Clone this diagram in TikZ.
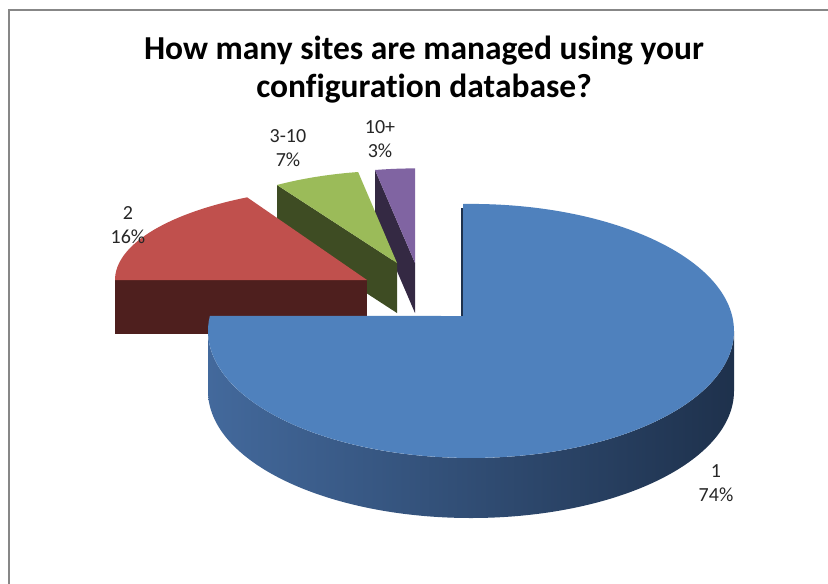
\documentclass[tikz,border=0pt]{standalone}
\usepackage{fontspec}
\setmainfont{Carlito}[Ligatures=NoCommon]
\definecolor{bluetop}{HTML}{4F81BD}
\definecolor{blueL}{HTML}{43699C}
\definecolor{blueM}{HTML}{2E4D72}
\definecolor{blueR}{HTML}{1E314C}
\definecolor{redtop}{HTML}{C0504D}
\definecolor{redface}{HTML}{4E1F1E}
\definecolor{greentop}{HTML}{9BBB59}
\definecolor{greenface}{HTML}{3E4C23}
\definecolor{purpletop}{HTML}{8064A2}
\definecolor{purpleface}{HTML}{342943}
\definecolor{framegray}{HTML}{878787}
\begin{document}
\begin{tikzpicture}[x=1pt,y=-1pt,
  lbl/.style={font=\fontsize{20}{24}\selectfont, text=black!85, align=center, inner sep=0pt},
  ttl/.style={font=\fontsize{33.5}{38}\selectfont\bfseries, text=black, align=center, inner sep=0pt}]
\useasboundingbox (0,0) rectangle (828,584);
\fill[white] (0,0) rectangle (828,584);
% frame
\draw[framegray, line width=2pt] (828,9.5) -- (8.5,9.5) -- (8.5,584);
% title
\node[ttl] (title) at (424,70) {How many sites are managed using your\\configuration database?};
% purple slice (10+)
\fill[purpleface] (375,170) -- (415,263) -- (415,313) -- (375,220) -- cycle;
\fill[purpletop] (415,263) -- (375,170) arc[start angle=259.5, end angle=270, x radius=220, y radius=95] -- cycle;
% green slice (3-10)
\fill[greenface] (277,185) -- (397,263) -- (397,313) -- (277,235) -- cycle;
\fill[greentop] (397,263) -- (277,185) arc[start angle=237.6, end angle=260, x radius=224, y radius=92.4] -- cycle;
% red slice (2)
\fill[redface] (115,280) -- (367,280) -- (367,334) -- (115,334) -- cycle;
\fill[redtop] (367,280) -- (115,280) arc[start angle=180, end angle=241.6, x radius=252, y radius=94] -- cycle;
% blue slice (1)
\shade[left color=blueL, middle color=blueM, right color=blueR]
  (734,331) arc[start angle=0, end angle=180, x radius=263, y radius=127]
  -- (208,391) arc[start angle=180, end angle=0, x radius=263, y radius=127] -- cycle;
\fill[blueR] (461,208) rectangle (464,316);
\fill[bluetop] (463,316) -- (463,204) arc[start angle=268.26, end angle=546.78, x radius=263, y radius=127] -- cycle;
% labels
\node[lbl] (l2) at (128,225) {2\\16\%};
\node[lbl] (l3) at (288,148) {3-10\\7\%};
\node[lbl] (l10) at (380,139) {10+\\3\%};
\node[lbl] (l1) at (716,483) {1\\74\%};
\end{tikzpicture}
\end{document}
